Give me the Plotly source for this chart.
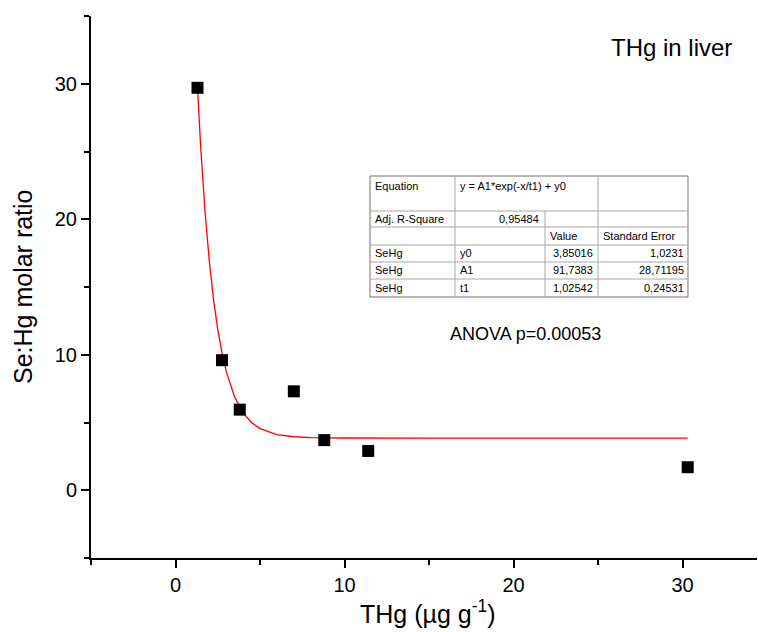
import plotly.graph_objects as go

# ---- data ----
thg = [1.3, 2.75, 3.8, 7.0, 8.8, 11.4, 30.3]
ratio = [29.7, 9.6, 5.95, 7.3, 3.7, 2.9, 1.7]

fit_x = [1.3, 1.5, 1.75, 2.0, 2.25, 2.5, 2.75, 3.0, 3.5, 4.0, 4.5, 5.0, 6.0, 7.0, 8.0, 10.0, 15.0, 20.0, 30.3]
fit_y = [29.7, 25.1, 20.5, 16.9, 14.07, 11.86, 10.13, 8.77, 6.87, 5.71, 4.99, 4.55, 4.11, 3.95, 3.89, 3.855, 3.85, 3.85, 3.85]

x_ticks = [0, 10, 20, 30]
y_ticks = [0, 10, 20, 30]

table_col1 = ["Equation", "Adj. R-Square", "", "SeHg", "SeHg", "SeHg"]
table_col2 = ["y = A1*exp(-x/t1) + y0", "0,95484", "", "y0", "A1", "t1"]
table_col3 = ["", "", "Value", "3,85016", "91,7383", "1,02542"]
table_col4 = ["", "", "Standard Error", "1,0231", "28,71195", "0,24531"]

W, H = 758, 632
ML, MR, MT, MB = 91, 1, 16, 74
PW, PH = W - ML - MR, H - MT - MB

def px(x):
    return (x - ML) / PW

def py(y):
    return (H - MB - y) / PH

FONT = "Liberation Sans, Arial, sans-serif"

fig = go.Figure()
fig.add_trace(go.Scatter(x=fit_x, y=fit_y, mode="lines",
                         line=dict(color="#ff0000", width=1.3), showlegend=False))
fig.add_trace(go.Scatter(x=thg, y=ratio, mode="markers",
                         marker=dict(symbol="square", size=12, color="black"), showlegend=False))

axis_common = dict(showgrid=False, zeroline=False, showline=True, linecolor="black", linewidth=2,
                   ticks="outside", ticklen=8, tickwidth=2, tickcolor="black",
                   tickfont=dict(family=FONT, size=20, color="black"),
                   minor=dict(ticks="outside", ticklen=5, tickwidth=2, tickcolor="black", dtick=5, showgrid=False))

fig.update_xaxes(range=[-5, 34.4], tickvals=x_ticks, ticktext=[str(v) for v in x_ticks], **axis_common)
fig.update_yaxes(range=[-5, 35], tickvals=y_ticks, ticktext=[str(v) for v in y_ticks], **axis_common)

shapes = []
line_outer = dict(color="#707070", width=1)
line_inner = dict(color="#a8a8a8", width=1)
tx0, tx1, ty0, ty1 = 370, 688, 176, 297
shapes.append(dict(type="rect", xref="paper", yref="paper", x0=px(tx0), x1=px(tx1), y0=py(ty1), y1=py(ty0), line=line_outer))
for yy in [211, 227, 245, 262, 279]:
    shapes.append(dict(type="line", xref="paper", yref="paper", x0=px(tx0), x1=px(tx1), y0=py(yy), y1=py(yy), line=line_inner))
for xx, ys in [(455, ty0), (545, 211), (598, ty0)]:
    shapes.append(dict(type="line", xref="paper", yref="paper", x0=px(xx), x1=px(xx), y0=py(ty1), y1=py(ys), line=line_inner))

annotations = []
row_y = [186, 219, 236, 253, 270, 288]
def tbl(text, x, y, anchor):
    if text:
        annotations.append(dict(text=text, x=px(x), y=py(y), xref="paper", yref="paper", showarrow=False,
                                xanchor=anchor, yanchor="middle", font=dict(family=FONT, size=11, color="black")))
for i in range(6):
    tbl(table_col1[i], 373, row_y[i], "left")
    if i == 1:
        tbl(table_col2[i], 541, row_y[i], "right")
    else:
        tbl(table_col2[i], 458, row_y[i], "left")
    if i == 2:
        tbl(table_col3[i], 548, row_y[i], "left")
        tbl(table_col4[i], 601, row_y[i], "left")
    else:
        tbl(table_col3[i], 595, row_y[i], "right")
        tbl(table_col4[i], 686, row_y[i], "right")

annotations.append(dict(text="THg in liver", x=px(671), y=py(47), xref="paper", yref="paper", showarrow=False,
                        xanchor="center", yanchor="middle", font=dict(family=FONT, size=24, color="black")))
annotations.append(dict(text="ANOVA p=0.00053", x=px(525), y=py(334), xref="paper", yref="paper", showarrow=False,
                        xanchor="center", yanchor="middle", font=dict(family=FONT, size=18, color="black")))
annotations.append(dict(text="THg (µg g<sup>-1</sup>)", x=px(428), y=py(612), xref="paper", yref="paper", showarrow=False,
                        xanchor="center", yanchor="middle", font=dict(family=FONT, size=25, color="black")))
annotations.append(dict(text="Se:Hg molar ratio", x=px(23), y=py(287), xref="paper", yref="paper", showarrow=False,
                        textangle=-90, xanchor="center", yanchor="middle", font=dict(family=FONT, size=25, color="black")))

fig.update_layout(width=W, height=H, margin=dict(l=ML, r=MR, t=MT, b=MB),
                  plot_bgcolor="white", paper_bgcolor="white",
                  shapes=shapes, annotations=annotations, showlegend=False)

fig.write_html("out.html", config={"displayModeBar": False},
               post_script="document.body.style.margin='0';document.body.style.overflow='hidden';")
